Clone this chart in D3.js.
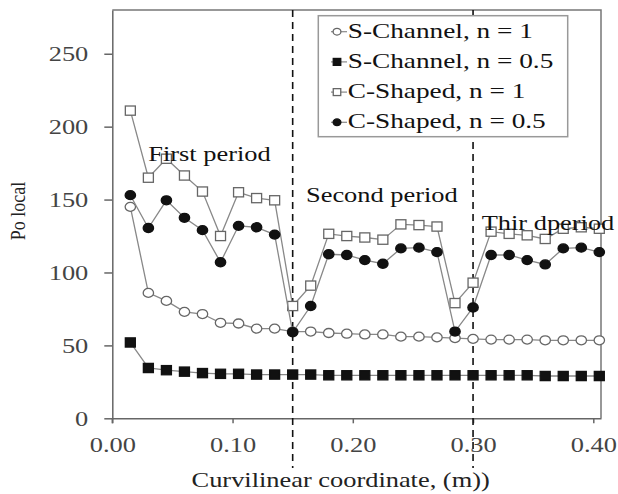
<!DOCTYPE html>
<html>
<head>
<meta charset="utf-8">
<script src="https://cdn.jsdelivr.net/npm/d3@7"></script>
<style>
  html, body { margin: 0; padding: 0; background: #fff; }
  svg { display: block; }
  text { font-family: "Liberation Serif", "Times New Roman", serif; }
</style>
</head>
<body>
<svg id="chart" width="618" height="494"></svg>
<script>
// Curvilinear coordinate along the channel (m)
const xs = [0.015, 0.030, 0.045, 0.060, 0.075, 0.090, 0.105, 0.120, 0.135, 0.150,
            0.165, 0.180, 0.195, 0.210, 0.225, 0.240, 0.255, 0.270, 0.285, 0.300,
            0.315, 0.330, 0.345, 0.360, 0.375, 0.390, 0.405];

// Local Poiseuille number for each geometry / power-law index
const sChannel1  = [145, 86, 80.5, 73, 71.5, 65.5, 65, 61.5, 61.5, 59.5,
                    59.5, 58.5, 58, 57.5, 57.5, 56, 56, 55.5, 55, 54.5,
                    54, 54, 54, 53.5, 53.5, 53.5, 53.5];
const sChannel05 = [52, 34.5, 33, 32, 31, 30.5, 30.5, 30, 30, 30,
                    30, 29.5, 29.5, 29.5, 29.5, 29.5, 29.5, 29.5, 29.5, 29.5,
                    29.5, 29.5, 29.5, 29, 29, 29, 29];
const cShaped1   = [211, 165, 178, 166.5, 155.5, 125, 155, 151, 149.5, 77,
                    91, 126.5, 125, 124, 122.5, 133, 132.5, 131.5, 79, 93,
                    128, 126.5, 125.5, 123, 130, 131, 130];
const cShaped05  = [153, 130.5, 149.5, 137.5, 129, 107, 132, 131, 126, 59,
                    77, 112.5, 112, 108.5, 106, 116.5, 117, 114, 59.5, 76,
                    112, 112, 108.5, 105.5, 116.5, 117, 114];

const xTicks = [0, 0.1, 0.2, 0.3, 0.4];
const yTicks = [0, 50, 100, 150, 200, 250];
const periodBounds = [0.15, 0.30];
const periodLabels = ["First period", "Second period", "Thir dperiod"];
const legendLabels = ["S-Channel, n = 1", "S-Channel, n = 0.5", "C-Shaped, n = 1", "C-Shaped, n = 0.5"];

const W = 618, H = 494;
const m = { left: 112.3, top: 10, right: 601, bottom: 418.3 };
const SX = 1.2; // horizontal glyph stretch

const svg = d3.select("#chart");
const x = d3.scaleLinear().domain([0, 0.4064]).range([m.left, m.right]);
const y = d3.scaleLinear().domain([0, 280]).range([m.bottom, m.top]);

function stretchText(sel, sx) {
  sel.each(function () {
    const t = d3.select(this);
    const tx = +t.attr("x") || 0;
    t.attr("transform", `translate(${tx},0) scale(${sx},1)`).attr("x", 0);
  });
}

// frame (top and right)
svg.append("path")
  .attr("d", `M${m.left},${m.top}H${m.right}V${m.bottom}`)
  .attr("fill", "none").attr("stroke", "#777").attr("stroke-width", 1.5);

// axes
const gx = svg.append("g").attr("transform", `translate(0,${m.bottom})`)
  .call(d3.axisBottom(x).tickValues(xTicks).tickFormat(d3.format(".2f"))
        .tickSizeInner(5).tickSizeOuter(0).tickPadding(13.5));
const gy = svg.append("g").attr("transform", `translate(${m.left},0)`)
  .call(d3.axisLeft(y).tickValues(yTicks).tickSizeInner(8).tickSizeOuter(0).tickPadding(16));
[gx, gy].forEach(g => {
  g.select(".domain").attr("stroke", "#666").attr("stroke-width", 1.5);
  g.selectAll(".tick line").attr("stroke", "#666").attr("stroke-width", 1.5);
  g.selectAll("text").attr("font-size", 22).attr("fill", "#444")
    .attr("font-family", "Liberation Serif, serif");
  stretchText(g.selectAll("text"), SX);
});
// y axis runs a little below the x axis
svg.append("line").attr("x1", m.left).attr("x2", m.left)
  .attr("y1", m.bottom).attr("y2", m.bottom + 5)
  .attr("stroke", "#666").attr("stroke-width", 1.5);

// axis titles
svg.append("text")
  .attr("transform", `translate(${(m.left + m.right) / 2 - 16},486.5) scale(${SX},1)`)
  .attr("text-anchor", "middle").attr("font-size", 22).attr("fill", "#222")
  .text("Curvilinear coordinate, (m))");
svg.append("text")
  .attr("transform", `translate(25,211) scale(${SX},1) rotate(-90)`)
  .attr("text-anchor", "middle").attr("font-size", 18).attr("fill", "#222")
  .text("Po local");

// period boundaries
svg.selectAll(".bound").data(periodBounds).join("line")
  .attr("x1", d => x(d)).attr("x2", d => x(d))
  .attr("y1", m.top).attr("y2", 468)
  .attr("stroke", "#111").attr("stroke-width", 1.6).attr("stroke-dasharray", "7,5");

// series
const series = [
  { vals: sChannel1,  shape: "circle", fill: "#fff",  stroke: "#666" },
  { vals: sChannel05, shape: "square", fill: "#111",  stroke: "#111" },
  { vals: cShaped1,   shape: "square", fill: "#fff",  stroke: "#666" },
  { vals: cShaped05,  shape: "circle", fill: "#111",  stroke: "#111" }
];
const line = d3.line().x(d => x(d[0])).y(d => y(d[1]));

function drawMarker(g, shape, fill, stroke, cx, cy, s) {
  if (shape === "circle") {
    g.append("ellipse").attr("cx", cx).attr("cy", cy).attr("rx", 5.2 * s).attr("ry", 4.5 * s)
      .attr("fill", fill).attr("stroke", stroke).attr("stroke-width", 1.3);
  } else {
    g.append("rect").attr("x", cx - 5 * s).attr("y", cy - 4.6 * s)
      .attr("width", 10 * s).attr("height", 9.2 * s)
      .attr("fill", fill).attr("stroke", stroke).attr("stroke-width", 1.3);
  }
}

series.forEach(sr => {
  const pts = xs.map((v, i) => [v, sr.vals[i]]);
  const g = svg.append("g");
  g.append("path").attr("d", line(pts)).attr("fill", "none")
    .attr("stroke", "#888").attr("stroke-width", 1.3);
  pts.forEach(p => drawMarker(g, sr.shape, sr.fill, sr.stroke, x(p[0]), y(p[1]), 1));
});

// period labels
const labelPos = [[148.3, 161], [306, 201.5], [481.7, 230]];
periodLabels.forEach((t, i) => {
  svg.append("text")
    .attr("transform", `translate(${labelPos[i][0]},${labelPos[i][1]}) scale(${SX},1)`)
    .attr("font-size", 22).attr("fill", "#111").text(t);
});

// legend
const lg = svg.append("g");
lg.append("rect").attr("x", 318.3).attr("y", 15.7).attr("width", 249.4).attr("height", 121)
  .attr("fill", "#fff").attr("stroke", "#999").attr("stroke-width", 1.5);
const legendOrder = [0, 1, 2, 3];
legendOrder.forEach((si, i) => {
  const base = 37.7 + i * 30.2;
  const sr = series[si];
  lg.append("line").attr("x1", 331).attr("x2", 347).attr("y1", base - 6).attr("y2", base - 6)
    .attr("stroke", "#888").attr("stroke-width", 1.2);
  drawMarker(lg, sr.shape, sr.fill, sr.stroke, 337, base - 6, 0.75);
  lg.append("text")
    .attr("transform", `translate(347.7,${base}) scale(1.3,1)`)
    .attr("font-size", 21).attr("fill", "#111").text(legendLabels[si]);
});
</script>
</body>
</html>
